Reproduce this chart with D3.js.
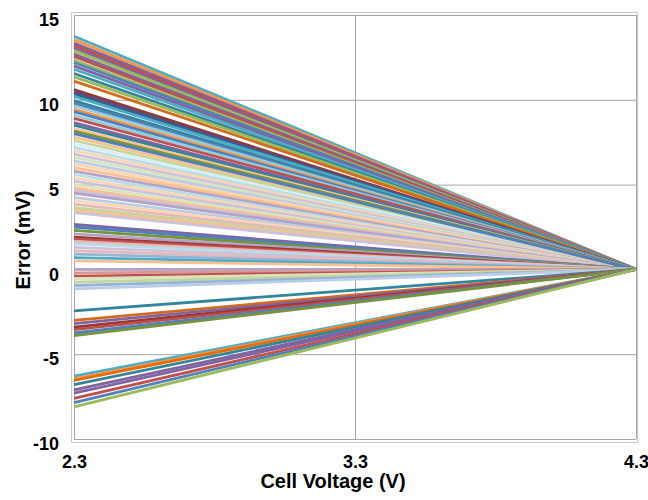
<!DOCTYPE html>
<html>
<head>
<meta charset="utf-8">
<script src="https://cdn.jsdelivr.net/npm/d3@7"></script>
<style>
  body { margin: 0; background: #ffffff; }
  text { font-family: "Liberation Sans", Arial, sans-serif; font-weight: bold; fill: #000; }
</style>
</head>
<body>
<svg id="chart" width="648" height="500"></svg>
<script>
// Cell voltage span of the sweep; every error curve reaches 0 mV at the top end.
const voltageRange = [2.3, 4.3];
const xTickValues = [2.3, 3.3, 4.3];
const yTickValues = [-10, -5, 0, 5, 10, 15];

// Error (mV) at 2.3 V for each calibrated cell, grouped by band.
const upperBand = [13.75, 13.55, 13.35, 13.2, 13.05, 12.9, 12.7, 12.55, 12.35, 12.2, 12.0, 11.8, 11.55, 11.35, 11.1];
const upperColors = ["#4BACC6", "#F79646", "#8064A2", "#C0504D", "#8064A2", "#9BBB59", "#8064A2", "#C0504D", "#9BBB59", "#4F81BD", "#8064A2", "#4BACC6", "#31859C", "#9BBB59", "#D46A1E"];

const highBand = [10.6, 10.45, 10.35, 10.2, 9.95, 9.8, 9.65, 9.45, 9.3, 9.1, 8.9, 8.65, 8.5, 8.3, 8.15, 8.0];
const highColors = ["#953735", "#604A7B", "#376092", "#4BACC6", "#31859C", "#4F81BD", "#93CDDD", "#F79646", "#4F81BD", "#93CDDD", "#C0504D", "#8064A2", "#31859C", "#FAC090", "#77933C", "#4F81BD"];

const paleBand = [7.8, 7.6, 7.4, 7.2, 7.0, 6.8, 6.6, 6.4, 6.2, 6.0, 5.8, 5.6, 5.4, 5.2, 5.0, 4.8, 4.65, 4.5, 4.25, 4.05, 3.85, 3.65, 3.5, 3.35];
const paleColors = ["#FAC090", "#C3D69B", "#DBEEF4", "#B7DEE8", "#FCD5B5", "#CCC1DA", "#D7E4BD", "#B9CDE5", "#FCD5B5", "#FAC090", "#B3A2C7", "#B7DEE8", "#FCD5B5", "#CCC1DA", "#D7E4BD", "#FAC090", "#CCC1DA", "#B3A2C7", "#B9CDE5", "#FCD5B5", "#E6B9B8", "#C3D69B", "#FAC090", "#CCC1DA"];

const nearZeroBand = [2.65, 2.5, 2.3, 2.1, 1.9, 1.8, 1.65, 1.5, 1.3, 1.1, 0.9, 0.7, 0.5, 0.0, -0.2, -0.4, -0.55, -0.75, -0.95, -1.15];
const nearZeroColors = ["#8064A2", "#4F81BD", "#77933C", "#B3A2C7", "#953735", "#C0504D", "#E6B9B8", "#B7DEE8", "#CCC1DA", "#E6B9B8", "#95B3D7", "#4BACC6", "#FAC090", "#B3A2C7", "#D99694", "#C0504D", "#D7E4BD", "#C3D69B", "#95B3D7", "#B9CDE5"];

const lowBand = [-2.45, -3.0, -3.2, -3.4, -3.55, -3.75, -3.9];
const lowColors = ["#31859C", "#D46A1E", "#8064A2", "#953735", "#C0504D", "#4F81BD", "#77933C"];

const bottomBand = [-6.3, -6.45, -6.55, -6.8, -7.1, -7.3, -7.6, -7.85, -8.1];
const bottomColors = ["#4BACC6", "#F79646", "#E46C0A", "#31859C", "#8064A2", "#8064A2", "#C0504D", "#4F81BD", "#9BBB59"];

const bands = [
  [paleBand, paleColors],
  [upperBand, upperColors],
  [highBand, highColors],
  [nearZeroBand, nearZeroColors],
  [lowBand, lowColors],
  [bottomBand, bottomColors]
];

const series = [];
bands.forEach(([vals, cols]) => vals.forEach((v, i) => series.push({
  color: cols[i],
  points: [[voltageRange[0], v], [voltageRange[1], 0]]
})));

const svg = d3.select("#chart");
const plot = { left: 74, right: 636, top: 15, bottom: 439 };

const x = d3.scaleLinear().domain(voltageRange).range([plot.left, plot.right]);
const y = d3.scaleLinear().domain([-10, 15]).range([plot.bottom, plot.top]);

// Plot-area frame
svg.append("rect")
  .attr("x", 71.5).attr("y", 12.5)
  .attr("width", 566).attr("height", 430)
  .attr("fill", "none").attr("stroke", "#c8c8c8").attr("stroke-width", 1);

// Gridlines
const yGrid = svg.append("g").attr("transform", `translate(${plot.left},0)`)
  .call(d3.axisLeft(y).tickValues(yTickValues).tickSize(-(plot.right - plot.left)).tickFormat(""));
yGrid.select(".domain").remove();
yGrid.selectAll("line").attr("stroke", "#a6a6a6").attr("stroke-width", 1);

const xGrid = svg.append("g").attr("transform", `translate(0,${plot.bottom})`)
  .call(d3.axisBottom(x).tickValues(xTickValues).tickSize(-(plot.bottom - plot.top)).tickFormat(""));
xGrid.select(".domain").remove();
xGrid.selectAll("line").attr("stroke", "#a6a6a6").attr("stroke-width", 1);

// Error lines
const line = d3.line().x(d => x(d[0])).y(d => y(d[1]));
svg.append("g").selectAll("path").data(series).join("path")
  .attr("d", d => line(d.points))
  .attr("fill", "none")
  .attr("stroke", d => d.color)
  .attr("stroke-width", 2.8);

// Tick labels (plain hyphen for negatives)
const yAxis = svg.append("g").attr("transform", `translate(${plot.left - 15},5)`)
  .call(d3.axisLeft(y).tickValues(yTickValues).tickSize(0).tickFormat(d => String(d)));
yAxis.select(".domain").remove();
yAxis.selectAll("text").attr("font-size", 18).attr("font-family", "Liberation Sans, Arial, sans-serif")
  .attr("font-weight", "bold").attr("fill", "#000").attr("x", 0);

const xAxis = svg.append("g").attr("transform", `translate(0,${plot.bottom + 13})`)
  .call(d3.axisBottom(x).tickValues(xTickValues).tickSize(0).tickFormat(d3.format(".1f")));
xAxis.select(".domain").remove();
xAxis.selectAll("text").attr("font-size", 18).attr("font-family", "Liberation Sans, Arial, sans-serif")
  .attr("font-weight", "bold").attr("fill", "#000");

// Axis titles
svg.append("text")
  .attr("x", 333).attr("y", 488)
  .attr("text-anchor", "middle").attr("font-size", 20)
  .text("Cell Voltage (V)");

svg.append("text")
  .attr("transform", "translate(30,240) rotate(-90)")
  .attr("text-anchor", "middle").attr("font-size", 20)
  .text("Error (mV)");
</script>
</body>
</html>
